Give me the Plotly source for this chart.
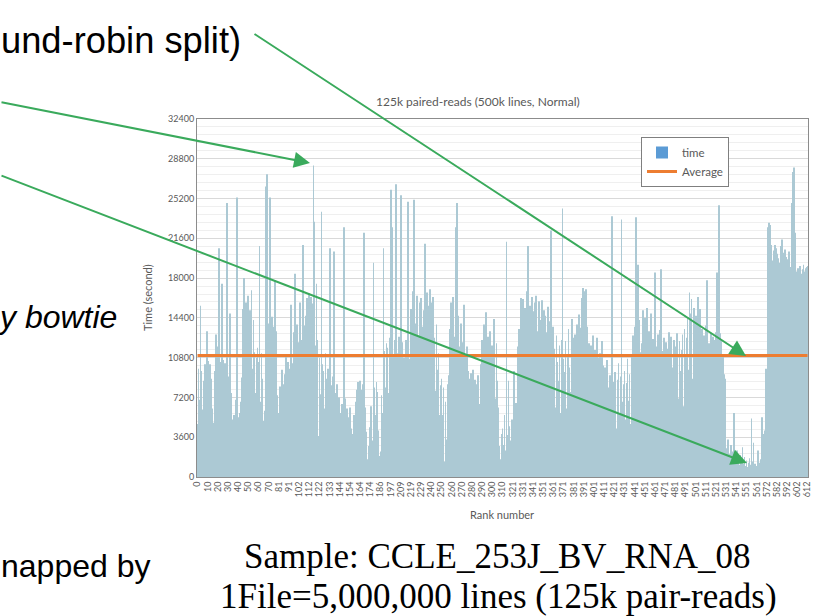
import plotly.graph_objects as go

# ---------------- data ----------------
MISSING_RANKS = [75, 96, 127, 138, 178, 182, 191, 201, 205, 235, 315, 566]
RANKS = [str(r) for r in range(613) if r not in MISSING_RANKS]

TICK_LABELS = ["0", "10", "20", "30", "40", "50", "60", "70", "81", "91", "102", "112", "122", "133",
               "144", "154", "164", "174", "186", "197", "209", "219", "229", "240", "250", "260",
               "270", "280", "290", "300", "310", "321", "331", "341", "351", "361", "371", "381",
               "391", "401", "411", "421", "431", "441", "451", "461", "471", "481", "491", "501",
               "511", "521", "531", "541", "551", "561", "572", "582", "592", "602", "612"]

TIME = [
    4800, 9800, 7000, 15500, 9600, 6100, 8700, 10200, 5400, 13200,
    10500, 7900, 10200, 8900, 6200, 4900, 3800, 9600, 12900, 8400,
    11800, 20700, 7300, 10400, 17500, 10600, 6400, 10300, 9400, 24800,
    9100, 5900, 14800, 7600, 5200, 3600, 5600, 4300, 7000, 25300,
    5400, 3900, 5800, 6800, 9000, 15200, 18000, 11600, 15800, 9200,
    16400, 12100, 15100, 16900, 9800, 14200, 11300, 7600, 10800, 11700,
    10400, 20900, 6800, 11200, 8900, 5100, 6000, 26300, 27400, 10200,
    13900, 25300, 9100, 14500, 13600, 8400, 17800, 13200, 7400, 4600,
    5800, 8200, 4900, 9700, 8400, 6200, 9300, 10900, 5600, 10400,
    9800, 7100, 15600, 9400, 10300, 13100, 18400, 8600, 13800, 12200,
    11900, 15800, 9500, 12400, 21000, 13700, 8900, 14600, 16200, 11400,
    16600, 12200, 16300, 15700, 28200, 23100, 11900, 17500, 12400, 3700,
    10800, 7500, 24000, 10200, 9600, 6200, 11200, 8900, 9800, 5600,
    20700, 8300, 5800, 9100, 20400, 7600, 4400, 8400, 6900, 7200,
    5800, 3600, 6600, 5300, 22600, 7100, 4200, 6200, 5400, 4700,
    6300, 4400, 3900, 3400, 5600, 2800, 6800, 7900, 8600, 5200,
    8700, 7900, 5400, 8400, 22100, 6300, 4100, 1400, 1600, 2800,
    4500, 6400, 3300, 19400, 8100, 5600, 8600, 7700, 4200, 1900,
    2300, 7400, 5800, 20700, 11400, 8100, 12100, 11700, 7600, 12600,
    26000, 22600, 10900, 7400, 12400, 26500, 11200, 8600, 12700, 11600,
    25500, 12200, 2600, 10800, 7900, 12400, 11600, 24900, 6800, 10700,
    15200, 9400, 16800, 25100, 13900, 10700, 16400, 12800, 8900, 15800,
    16200, 13600, 9100, 15100, 21100, 14400, 16700, 10900, 15500, 17000,
    15800, 10100, 16300, 12600, 7800, 13800, 9700, 11200, 5600, 8300,
    8900, 5600, 8100, 1400, 6800, 3400, 8400, 9200, 13400, 15800,
    10100, 16300, 12700, 6800, 22600, 24800, 14600, 9100, 11800, 13900,
    7200, 12200, 15600, 10900, 6800, 11800, 9600, 5900, 8900, 9400,
    7300, 9700, 4600, 8800, 5800, 8400, 9200, 6600, 3900, 10200,
    12400, 8100, 13800, 11600, 14900, 7400, 12700, 9800, 13200, 6900,
    11900, 10600, 14300, 7100, 12100, 8700, 6300, 2800, 1600, 3900,
    4400, 2900, 5600, 2400, 21300, 3800, 8700, 4600, 3300, 5200,
    4000, 9600, 3600, 6700, 2900, 11800, 13400, 8700, 16200, 14600,
    16100, 10300, 15300, 14400, 16800, 20900, 9500, 15500, 13900, 16300,
    15000, 10200, 15800, 16400, 13200, 8700, 15900, 12600, 14200, 16000,
    9500, 15100, 14600, 13100, 8400, 15400, 12800, 14100, 22300, 9600,
    13600, 11600, 6300, 12800, 10400, 8700, 11900, 5800, 12400, 24300,
    10700, 9500, 12300, 6200, 10900, 13400, 9900, 7700, 14300, 12600,
    10100, 12900, 7400, 13800, 10600, 14700, 8300, 13500, 16200, 17100,
    16800, 11000, 17000, 13600, 8100, 12100, 10700, 11900, 6400, 12800,
    10300, 11500, 7200, 12600, 10800, 8300, 11200, 5700, 12300, 10100,
    8800, 9900, 5400, 10600, 8100, 6300, 9200, 4800, 23600, 8600,
    7100, 9500, 4400, 8800, 10300, 5600, 9100, 23300, 6800, 8400,
    9600, 5200, 8500, 10700, 6900, 9300, 4800, 10900, 12800, 8500,
    13600, 23500, 8400, 19200, 14200, 11300, 7900, 12100, 15100, 10800,
    14400, 8700, 15300, 11600, 13200, 6800, 14800, 10900, 12500, 9700,
    18500, 11800, 7900, 12900, 10200, 13300, 18800, 6400, 11400, 12600,
    10500, 12200, 6400, 11600, 13100, 8300, 12700, 9900, 5200, 12400,
    10600, 11800, 13000, 7100, 12300, 9600, 11500, 12900, 6400, 13400,
    11100, 12600, 14300, 9700, 16700, 14800, 16100, 8900, 15300, 13800,
    14600, 9300, 16300, 12700, 15200, 7400, 13400, 11900, 12800, 6600,
    13700, 17800, 10900, 12100, 6800, 13000, 11200, 12700, 8300, 12400,
    13100, 18500, 9800, 24600, 13000, 12300, 6900, 10900, 9300, 8900,
    2600, 1800, 3400, 2100, 1500, 2900, 1700, 2300, 5800, 1900,
    1300, 2400, 1600, 1100, 2000, 1400, 2700, 1200, 1800, 1000,
    1500, 900, 1300, 1700, 1100, 5300, 1400, 3100, 1200, 800,
    1000, 2400, 900, 1300, 1600, 5400, 3500, 3900, 4200, 9800,
    3600, 22600, 23000, 22800, 21000, 18900, 19600, 20500, 21000, 20700,
    20200, 19800, 19400, 18600, 20900, 21500, 20300, 19100, 20600, 19900,
    18500, 19700, 20400, 19000, 18700, 24800, 27600, 28000, 22100, 18600,
    18300, 18900, 18500, 19100, 18400, 18800, 19200, 18600, 18900, 19000,
    19100,
]
AVERAGE = 11000
Y_TICKS = [0, 3600, 7200, 10800, 14400, 18000, 21600, 25200, 28800, 32400]

TITLE = "125k paired-reads (500k lines, Normal)"

# ---------------- figure ----------------
W, H = 814, 616
L, R, T, B = 197, 6, 119, 139
PW, PH = W - L - R, H - T - B


def px(xp):
    return (xp - L) / PW


def py(yp):
    return (H - B - yp) / PH


CHART_FONT = "Lato, Open Sans, sans-serif"
GREY = "#595959"
GREEN = "#3aaa5c"

fig = go.Figure()
fig.add_trace(go.Bar(x=RANKS, y=TIME, name="time", showlegend=False,
                     marker=dict(color="#acc9d4", line=dict(width=0))))
# legend entry with the series' nominal colour
fig.add_trace(go.Bar(x=[RANKS[0]], y=[0], name="time", marker=dict(color="#5b9bd5", line=dict(width=0)),
                     hoverinfo="skip"))
fig.add_trace(go.Scatter(x=RANKS, y=[AVERAGE] * len(RANKS), name="Average", mode="lines",
                         line=dict(color="#ed7d31", width=3)))

fig.update_layout(
    width=W, height=H,
    margin=dict(l=L, r=R, t=T, b=B, autoexpand=False),
    paper_bgcolor="white", plot_bgcolor="white",
    bargap=0.25, barmode="overlay",
    font=dict(family=CHART_FONT, color=GREY, size=9),
    legend=dict(x=px(641), y=py(137), xanchor="left", yanchor="top",
                bordercolor="#7f7f7f", borderwidth=1, bgcolor="white",
                font=dict(size=11.5, color=GREY, family=CHART_FONT),
                itemwidth=30, tracegroupgap=0),
    showlegend=True,
)
fig.update_xaxes(type="category", tickmode="array", tickvals=TICK_LABELS, ticktext=TICK_LABELS,
                 tickangle=-90, tickfont=dict(size=9, color=GREY), showgrid=False,
                 showline=True, linecolor="#8c8c8c", linewidth=1, mirror=True, ticks="",
                 range=[-0.5, len(RANKS) - 0.5], automargin=False)
fig.update_yaxes(range=[0, 32400], tickvals=Y_TICKS, tickformat="d", tickfont=dict(size=9, color=GREY),
                 showgrid=True, gridcolor="#d9d9d9", gridwidth=1,
                 minor=dict(dtick=720, showgrid=True, gridcolor="#efefef", gridwidth=1),
                 showline=True, linecolor="#8c8c8c", linewidth=1, mirror=True, ticks="",
                 zeroline=False, automargin=False)

ann = []
ann.append(dict(text=TITLE, x=px(478), y=py(101), xref="paper", yref="paper", showarrow=False,
                font=dict(size=12, color=GREY, family=CHART_FONT), xanchor="center", yanchor="middle"))
ann.append(dict(text="Time (second)", x=px(147), y=py(298), xref="paper", yref="paper", showarrow=False,
                textangle=-90, font=dict(size=11, color=GREY, family=CHART_FONT),
                xanchor="center", yanchor="middle"))
ann.append(dict(text="Rank number", x=px(502), y=py(514), xref="paper", yref="paper", showarrow=False,
                font=dict(size=11, color=GREY, family=CHART_FONT), xanchor="center", yanchor="middle"))

# slide texts
SANS = "Liberation Sans, Arial, sans-serif"
SERIF = "Liberation Serif, Times New Roman, serif"
ann.append(dict(text="und-robin split)", x=px(243), y=py(40), xref="paper", yref="paper", showarrow=False,
                font=dict(size=36.3, color="black", family=SANS), xanchor="right", yanchor="middle"))
ann.append(dict(text="<i>y bowtie</i>", x=px(119), y=py(317), xref="paper", yref="paper", showarrow=False,
                font=dict(size=32, color="black", family=SANS), xanchor="right", yanchor="middle"))
ann.append(dict(text="napped by", x=px(152), y=py(566), xref="paper", yref="paper", showarrow=False,
                font=dict(size=32, color="black", family=SANS), xanchor="right", yanchor="middle"))
ann.append(dict(text="Sample: CCLE_253J_BV_RNA_08", x=px(497), y=py(556), xref="paper", yref="paper",
                showarrow=False, font=dict(size=35, color="black", family=SERIF),
                xanchor="center", yanchor="middle"))
ann.append(dict(text="1File=5,000,000 lines (125k pair-reads)", x=px(498), y=py(596), xref="paper",
                yref="paper", showarrow=False, font=dict(size=35, color="black", family=SERIF),
                xanchor="center", yanchor="middle"))

# arrows (tip, tail) in pixel coords
ARROWS = [((746, 356), (253, 33)), ((310, 163), (-5, 102)), ((747, 463), (-5, 175))]
for (tx, ty), (sx, sy) in ARROWS:
    ann.append(dict(text="", x=px(tx), y=py(ty), xref="paper", yref="paper",
                    ax=sx - tx, ay=sy - ty, axref="pixel", ayref="pixel",
                    showarrow=True, arrowhead=2, arrowsize=1.6, arrowwidth=2,
                    arrowcolor=GREEN, standoff=0, startstandoff=0))
fig.update_layout(annotations=ann)

fig.write_html("out.html", config={"displayModeBar": False},
               post_script="document.body.style.margin='0px';")
